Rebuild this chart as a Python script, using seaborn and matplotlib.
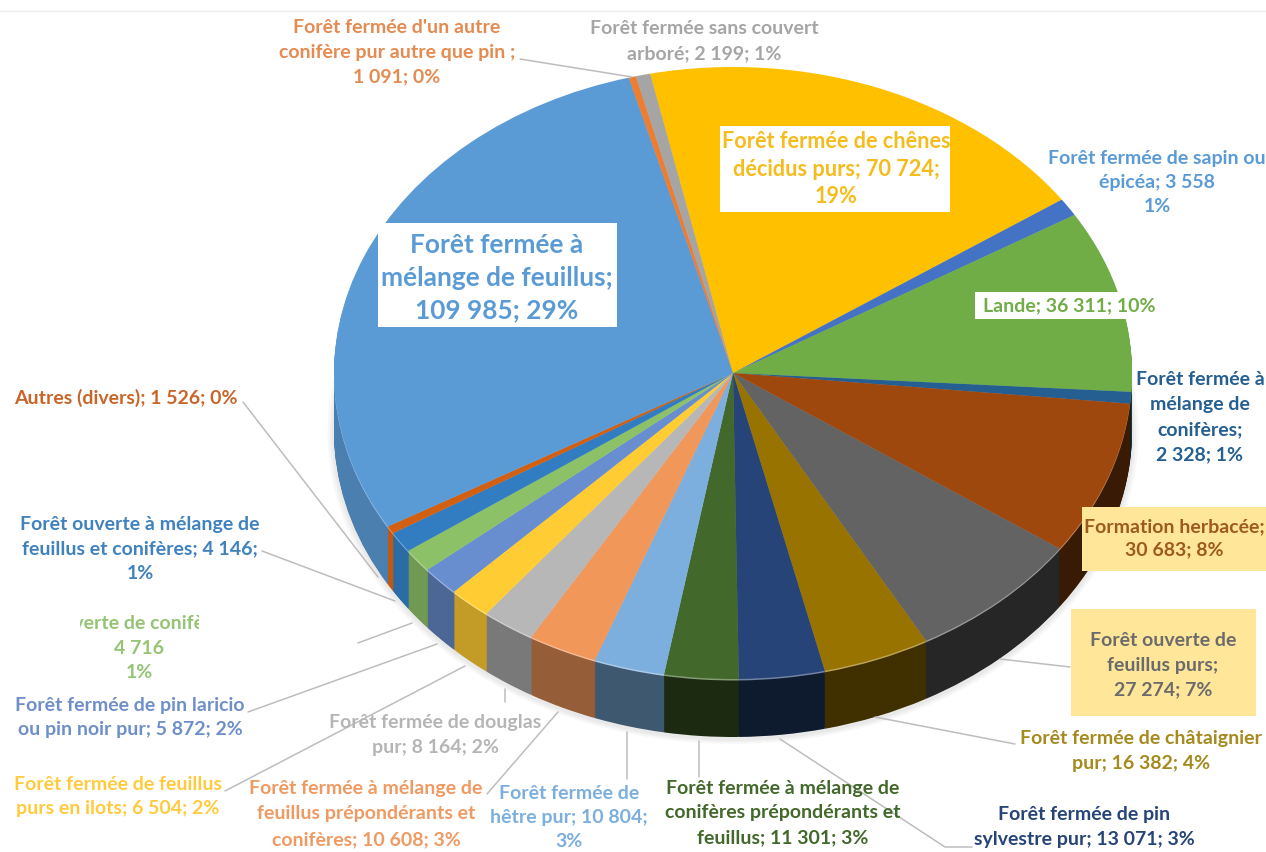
# CAMEMBERT 3D - OCCUPATION DU SOL / TYPES DE FORET

import matplotlib
matplotlib.use("Agg")
import matplotlib.pyplot as plt
from matplotlib.patches import Rectangle
import seaborn as sns


# DATA (clockwise, starting with the oak slice)

values = [70724, 3558, 36311, 2328, 30683, 27274, 16382, 13071, 11301, 10804,
          10608, 8164, 6504, 5872, 4716, 4146, 1526, 109985, 1091, 2199]

labels = [
    "Forêt fermée de chênes\ndécidus purs; 70 724;\n19%",
    "Forêt fermée de sapin ou\népicéa; 3 558\n1%",
    "Lande; 36 311; 10%",
    "Forêt fermée à\nmélange de\nconifères;\n2 328; 1%",
    "Formation herbacée;\n30 683; 8%",
    "Forêt ouverte de\nfeuillus purs;\n27 274; 7%",
    "Forêt fermée de châtaignier\npur; 16 382; 4%",
    "Forêt fermée de pin\nsylvestre pur; 13 071; 3%",
    "Forêt fermée à mélange de\nconifères prépondérants et\nfeuillus; 11 301; 3%",
    "Forêt fermée de\nhêtre pur; 10 804;\n3%",
    "Forêt fermée à mélange de\nfeuillus prépondérants et\nconifères; 10 608; 3%",
    "Forêt fermée de douglas\npur; 8 164; 2%",
    "Forêt fermée de feuillus\npurs en ilots; 6 504; 2%",
    "Forêt fermée de pin laricio\nou pin noir pur; 5 872; 2%",
    "Forêt ouverte de conifères purs;\n4 716\n1%",
    "Forêt ouverte à mélange de\nfeuillus et conifères; 4 146;\n1%",
    "Autres (divers); 1 526; 0%",
    "Forêt fermée à\nmélange de feuillus;\n109 985; 29%",
    "Forêt fermée d'un autre\nconifère pur autre que pin ;\n1 091; 0%",
    "Forêt fermée sans couvert\narboré; 2 199; 1%",
]

slice_colors = ["#FFC000", "#4472C4", "#70AD47", "#255E91", "#9E480E", "#636363",
                "#997300", "#264478", "#43682B", "#7CAFDD", "#F1975A", "#B7B7B7",
                "#FFCD33", "#698ED0", "#8CC168", "#327DC2", "#D26012", "#5B9BD5",
                "#ED7D31", "#A5A5A5"]

# how bright the side of each slice stays
side_shade = [0.6, 0.6, 0.4, 0.35, 0.36, 0.38, 0.42, 0.38, 0.4, 0.5,
              0.62, 0.66, 0.76, 0.72, 0.8, 0.86, 0.92, 0.82, 0.8, 0.7]

text_colors = ["#F4BC1C", "#5B9BD5", "#70AD47", "#255E91", "#9E5A1E", "#6B6B6B",
               "#A58A1E", "#264478", "#43682B", "#7CAFDD", "#EF9A62", "#B5B5B5",
               "#FFCB3D", "#6F8FCB", "#94C474", "#3F82BE", "#C8662A", "#5B9BD5",
               "#E58A50", "#A5A5A5"]

# LAYOUT (pixels of the 1266x853 picture)

W, H = 1266, 853
cx, cy, rx, ry = 733, 374, 399, 306
depth = 58
start_angle = 102

label_x = [836, 1157, 1069, 1200, 1174, 1163, 1141, 1084, 783, 569,
           366, 435, 118, 130, 139, 140, 126, 497, 397, 704]
label_y = [169, 182, 306, 417, 538, 665, 751, 827, 813, 818,
           814, 735, 797, 718, 648, 549, 398, 278, 52, 41]
label_size = [15.6, 14, 14, 14, 14, 14, 14, 14, 14, 14,
              14, 14, 14, 14, 14, 14, 14, 18.9, 14, 14]
label_spacing = [1.4, 1.5, 1.3, 1.57, 1.45, 1.57, 1.57, 1.57, 1.57, 1.5,
                 1.6, 1.57, 1.5, 1.5, 1.57, 1.57, 1.3, 1.43, 1.55, 1.57]

leaders = [
    [(243, 403), (378, 578)],
    [(262, 552), (395, 602)],
    [(358, 644), (412, 624)],
    [(248, 713), (437, 645)],
    [(225, 792), (465, 667)],
    [(505, 690), (505, 703)],
    [(487, 795), (558, 713)],
    [(627, 733), (627, 780)],
    [(699, 742), (699, 778)],
    [(780, 740), (945, 848), (972, 848)],
    [(875, 718), (1015, 745)],
    [(1000, 660), (1070, 668)],
    [(520, 60), (632, 78)],
]

# boxes behind the labels: x, y, width, height, colour
boxes = [
    (720, 127, 230, 86, "white"),
    (378, 224, 239, 104, "white"),
    (975, 293, 190, 27, "white"),
    (1082, 508, 184, 64, "#FFE699"),
    (1071, 610, 185, 107, "#FFE699"),
]


def shade(color, factor):
    r, g, b = sns.desaturate(color, 1.0)
    return (r * factor, g * factor, b * factor)


def lighten(color, amount):
    r, g, b = sns.desaturate(color, 1.0)
    return (r + (1 - r) * amount, g + (1 - g) * amount, b + (1 - b) * amount)


sns.set_theme(style="white")
plt.rcParams["font.family"] = ["Lato", "DejaVu Sans"]

fig = plt.figure(figsize=(W / 100, H / 100), dpi=100, facecolor="white")

ax = fig.add_axes([0, 0, 1, 1])
wedge_style = {"linewidth": 0}

# soft shadow around the base
for grow in [1.016, 1.010, 1.005]:
    ax.pie([1], colors=["#808080"], center=(0, -(depth + 2) / ry), radius=grow,
           wedgeprops={"linewidth": 0, "alpha": 0.06})

# side of the pie: the same pie stacked downwards, darker
side_colors = sns.color_palette([shade(c, s) for c, s in zip(slice_colors, side_shade)])
for d in range(depth, 1, -1):
    ax.pie(values, colors=side_colors, startangle=start_angle, counterclock=False,
           center=(0, -d / ry), radius=1, wedgeprops=wedge_style)

# thin light rim under the top face
rim_colors = [lighten(c, 0.35) for c in slice_colors]
ax.pie(values, colors=rim_colors, startangle=start_angle, counterclock=False,
       center=(0, -1.5 / ry), radius=1, wedgeprops=wedge_style)

# top face
ax.pie(values, colors=slice_colors, startangle=start_angle, counterclock=False,
       center=(0, 0), radius=1, wedgeprops=wedge_style)

ax.set_aspect("auto")
ax.set_xlim(-cx / rx, (W - cx) / rx)
ax.set_ylim((cy - H) / ry, cy / ry)
ax.axis("off")

# overlay in picture pixels for the labels
over = fig.add_axes([0, 0, 1, 1])
over.set_xlim(0, W)
over.set_ylim(H, 0)
over.axis("off")
over.patch.set_alpha(0)

over.plot([0, W], [12, 12], color="#EDEDED", lw=1)

for x, y, w, h, c in boxes:
    over.add_patch(Rectangle((x, y), w, h, facecolor=c, edgecolor="none", zorder=2))

for pts in leaders:
    over.plot([p[0] for p in pts], [p[1] for p in pts], color="#BDBDBD", lw=1.1, zorder=3)

for name, x, y, size, gap, col in zip(labels, label_x, label_y, label_size, label_spacing, text_colors):
    t = over.text(x, y, name, ha="center", va="center", ma="center", fontsize=size,
                  color=col, fontweight="bold", linespacing=gap, zorder=4)
    if name.startswith("Forêt ouverte de conifères"):
        # this label is cut by its frame in the original
        t.set_clip_path(Rectangle((80, 600), 119, 90, transform=over.transData))
        t.set_clip_on(True)

fig.savefig("out.png", dpi=100, facecolor="white")
